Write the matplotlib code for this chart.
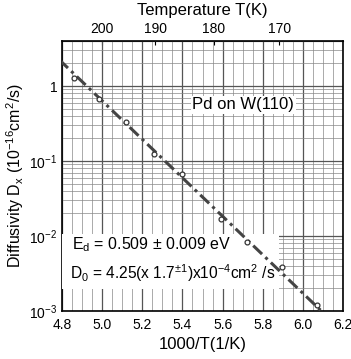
"""
Arrhenius plot of Pd diffusivity on W(110).
"""

import matplotlib.pyplot as plt
import numpy as np
from matplotlib.ticker import FixedLocator, MultipleLocator, NullFormatter

plt.rcParams["font.family"] = ["Liberation Sans", "DejaVu Sans"]
plt.rcParams["mathtext.fontset"] = "custom"
plt.rcParams["mathtext.rm"] = "Liberation Sans"
plt.rcParams["mathtext.it"] = "Liberation Sans"

inv_temp = [4.86, 4.985, 5.12, 5.26, 5.40, 5.59, 5.72, 5.895, 6.07]
diffusivity = [1.28, 0.67, 0.33, 0.124, 0.067, 0.0169, 0.0083, 0.0039, 0.0012]

# Fit parameters from the annotation.
e_d = 0.509  # eV
d_0 = 4.25e-4 * 1e16  # in units of 1e-16 cm^2/s
fit_range = [4.785, 6.1]

temp_ticks = [200, 190, 180, 170]
y_ticks = [1e-3, 1e-2, 1e-1, 1]
y_tick_labels = ["$10^{-3}$", "$10^{-2}$", "$10^{-1}$", "1"]

k_b = 8.617e-5

fig = plt.figure(figsize=(3.51, 3.59), dpi=100)
ax = fig.add_axes([0.177, 0.134, 0.800, 0.752])

ax.set_yscale("log")
ax.set_xlim(4.8, 6.2)
ax.set_ylim(1e-3, 4.0)

# Grid.
ax.xaxis.set_major_locator(MultipleLocator(0.2))
ax.xaxis.set_minor_locator(MultipleLocator(0.05))
ax.grid(which="major", color="#555555", linewidth=0.9)
ax.grid(which="minor", color="#888888", linewidth=0.5)
ax.yaxis.set_major_locator(FixedLocator(y_ticks))
ax.set_yticklabels(y_tick_labels)
ax.yaxis.set_minor_formatter(NullFormatter())
ax.tick_params(which="both", direction="in", labelsize=10, length=0)
ax.tick_params(axis="x", pad=5)

# White patch behind the fit results (hides the grid there).
ax.fill_between([4.8, 5.88], 1.95e-3, 1.05e-2, color="white", zorder=2.6, linewidth=0)

# Fit line.
xf = np.linspace(fit_range[0], fit_range[1], 50)
yf = d_0 * np.exp(-e_d / (k_b * 1000.0) * xf)
ax.plot(xf, yf, color="#444444", linestyle=(0, (4, 1.5, 1, 1.5)), linewidth=2.2, zorder=3)

# Data.
ax.plot(
    inv_temp,
    diffusivity,
    linestyle="none",
    marker="o",
    markersize=3.5,
    markerfacecolor="white",
    markeredgecolor="#333333",
    markeredgewidth=0.9,
    zorder=4,
)

ax.set_xlabel("1000/T(1/K)", fontsize=12)
ax.set_ylabel(r"Diffusivity D$_\mathrm{x}$ (10$^{-16}$cm$^2$/s)", fontsize=11.5, labelpad=2)

# Top temperature axis.
top = ax.secondary_xaxis("top", functions=(lambda x: x, lambda x: x))
top.set_xticks([1000.0 / t for t in temp_ticks])
top.set_xticklabels([str(t) for t in temp_ticks])
top.tick_params(direction="in", labelsize=10, length=3)
top.set_xlabel("Temperature T(K)", fontsize=12, labelpad=5)

# Annotations.
ax.text(5.45, 0.56, "Pd on W(110)", fontsize=12, ha="left", va="center",
        bbox=dict(facecolor="white", edgecolor="none", pad=1), zorder=2.7)
ax.text(4.85, 7.6e-3, r"E$_\mathrm{d}$ = 0.509 $\pm$ 0.009 eV", fontsize=11.5,
        ha="left", va="center", zorder=2.7)
ax.text(4.84, 3.2e-3, r"D$_0$ = 4.25(x 1.7$^{\pm1}$)x10$^{-4}$cm$^2$ /s", fontsize=11.2,
        ha="left", va="center", zorder=2.7)

for spine in ax.spines.values():
    spine.set_linewidth(1.2)

fig.savefig("out.png", dpi=100)
